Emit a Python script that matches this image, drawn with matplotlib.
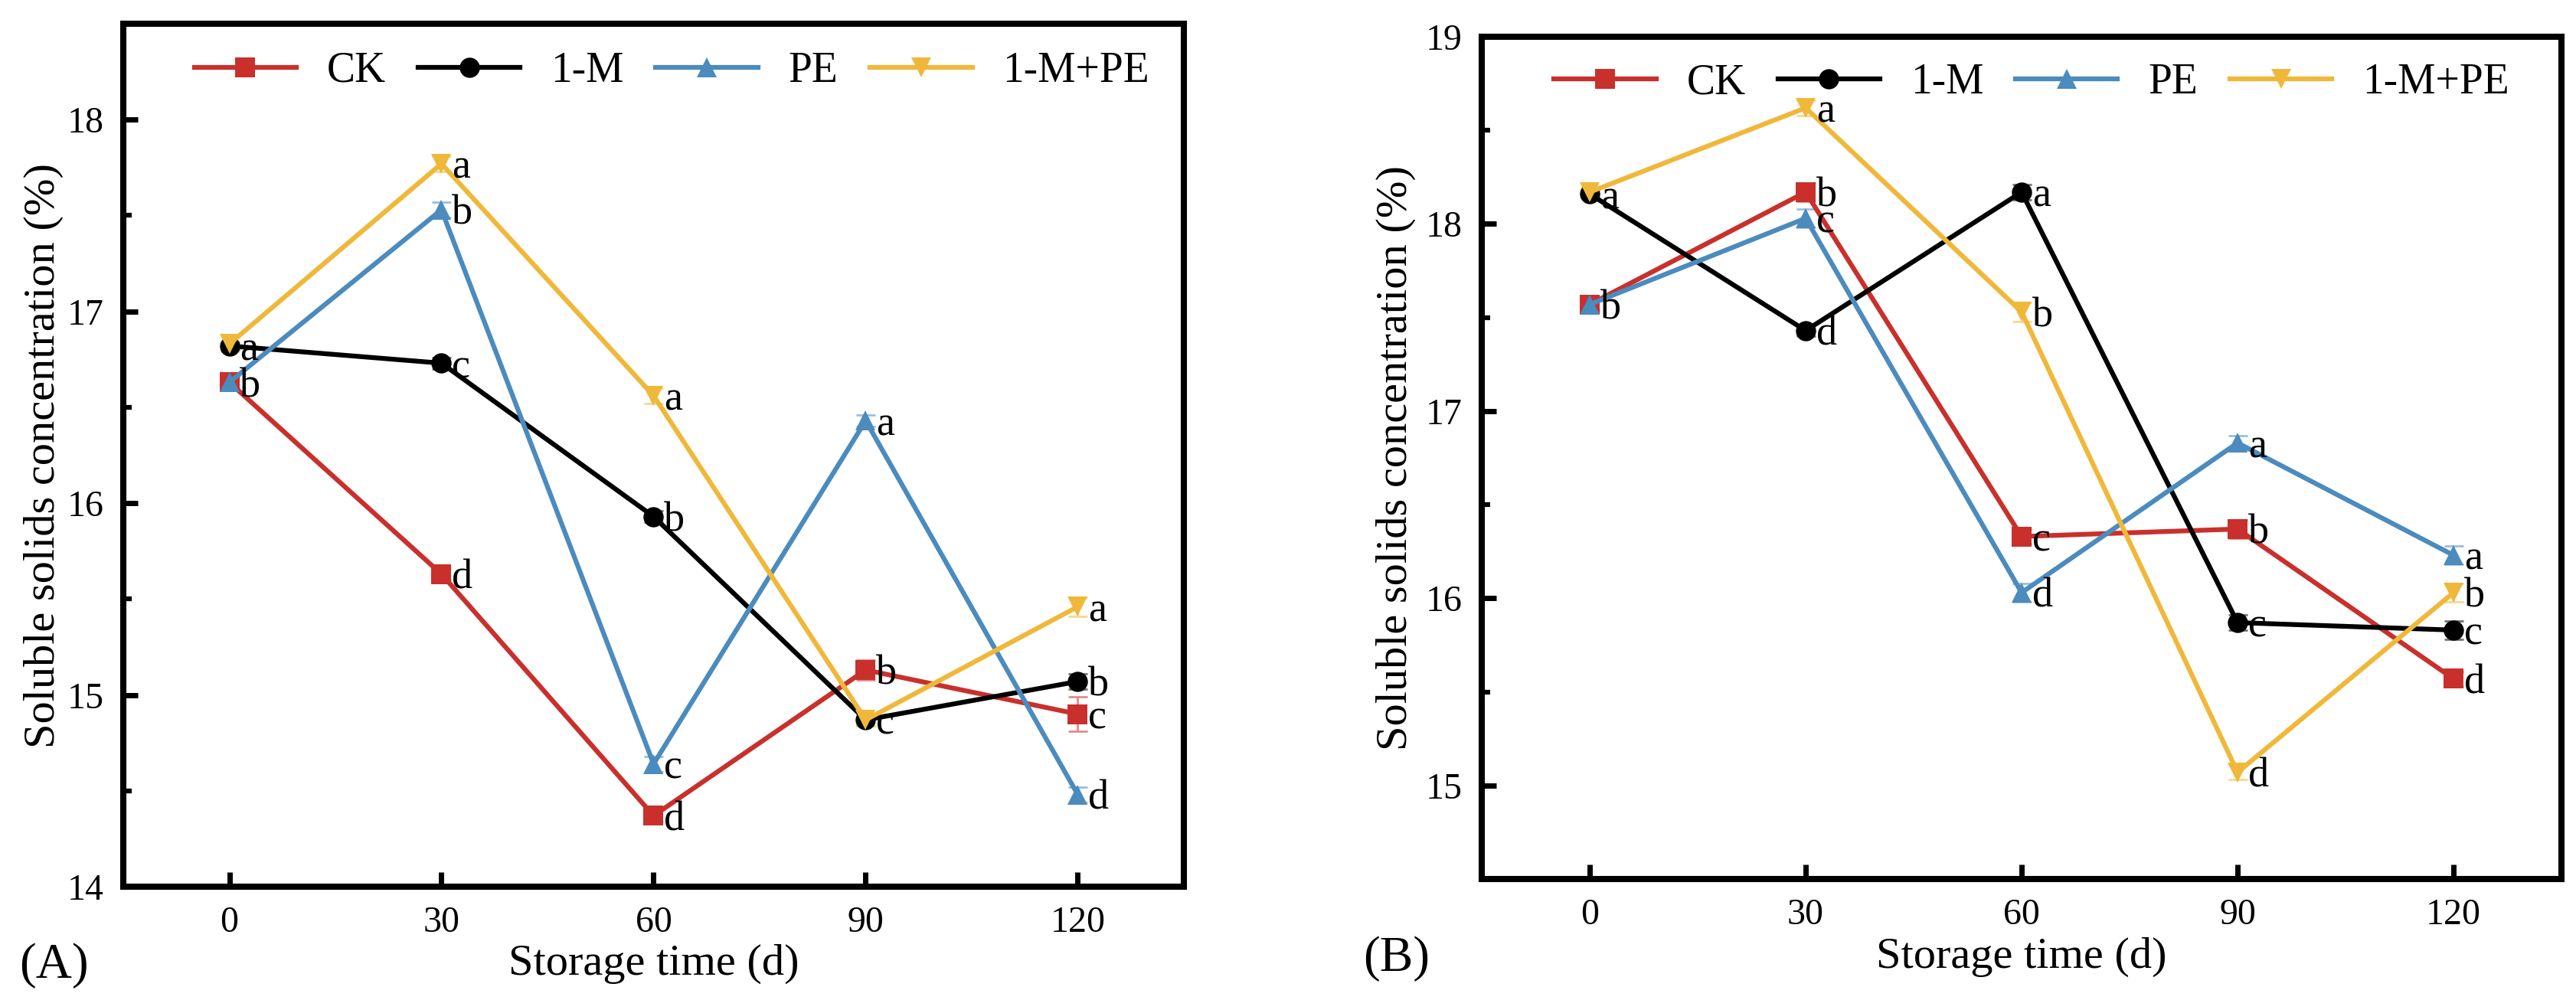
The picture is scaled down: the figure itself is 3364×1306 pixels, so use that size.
import matplotlib
matplotlib.use("Agg")
import matplotlib.pyplot as plt
from matplotlib.ticker import MultipleLocator
from matplotlib.colors import to_rgb

plt.rcParams['font.family'] = ['Liberation Serif', 'DejaVu Serif']

days = [0, 30, 60, 90, 120]
series_names = ['CK', '1-M', 'PE', '1-M+PE']

# Panel A
ck_a = [16.63, 15.63, 14.37, 15.13, 14.90]
m_a = [16.82, 16.73, 15.93, 14.87, 15.07]
pe_a = [16.63, 17.53, 14.64, 16.43, 14.48]
mpe_a = [16.83, 17.77, 16.56, 14.87, 15.46]
ck_a_err = [0.03, 0.03, 0.03, 0.05, 0.09]
m_a_err = [0.02, 0.03, 0.03, 0.03, 0.04]
pe_a_err = [0.03, 0.04, 0.04, 0.03, 0.04]
mpe_a_err = [0.04, 0.04, 0.04, 0.03, 0.05]
ck_a_let = ['b', 'd', 'd', 'b', 'c']
m_a_let = ['a', 'c', 'b', 'c', 'b']
pe_a_let = ['b', 'b', 'c', 'a', 'd']
mpe_a_let = ['a', 'a', 'a', 'c', 'a']

# Panel B
ck_b = [17.57, 18.17, 16.33, 16.37, 15.57]
m_b = [18.16, 17.43, 18.17, 15.87, 15.83]
pe_b = [17.57, 18.03, 16.03, 16.83, 16.23]
mpe_b = [18.17, 18.62, 17.53, 15.07, 16.03]
ck_b_err = [0.03, 0.05, 0.04, 0.05, 0.04]
m_b_err = [0.02, 0.03, 0.04, 0.04, 0.05]
pe_b_err = [0.03, 0.05, 0.05, 0.04, 0.05]
mpe_b_err = [0.03, 0.04, 0.05, 0.04, 0.05]
ck_b_let = ['b', 'b', 'c', 'b', 'd']
m_b_let = ['a', 'd', 'a', 'c', 'c']
pe_b_let = ['b', 'c', 'd', 'a', 'a']
mpe_b_let = ['a', 'a', 'b', 'd', 'b']

colors = ['#C9302C', '#000000', '#4B8BBE', '#F0B83A']
markers = ['s', 'o', '^', 'v']

def lighten(c, f=0.45):
    r, g, b = to_rgb(c)
    return (r + (1 - r) * f, g + (1 - g) * f, b + (1 - b) * f)

fig = plt.figure(figsize=(33.64, 13.06), dpi=100)
axA = fig.add_axes([0.04786, 0.11332, 0.41171, 0.86294])
axB = fig.add_axes([0.57521, 0.12098, 0.41915, 0.84227])

panels = [
    (axA, [ck_a, m_a, pe_a, mpe_a], [ck_a_err, m_a_err, pe_a_err, mpe_a_err],
     [ck_a_let, m_a_let, pe_a_let, mpe_a_let], (14, 18.5), [14, 15, 16, 17, 18]),
    (axB, [ck_b, m_b, pe_b, mpe_b], [ck_b_err, m_b_err, pe_b_err, mpe_b_err],
     [ck_b_let, m_b_let, pe_b_let, mpe_b_let], (14.5, 19), [15, 16, 17, 18, 19]),
]

for ax, vals, errs, lets, ylim, yticks in panels:
    handles = []
    placed = []
    for name, v, e, l, c, mk in zip(series_names, vals, errs, lets, colors, markers):
        ax.errorbar(days, v, yerr=e, fmt='none', ecolor=lighten(c), elinewidth=2,
                    capsize=9, capthick=2, zorder=2)
        ln, = ax.plot(days, v, color=c, lw=4.5, marker=mk, ms=19, mec=c, mew=0,
                      label=name, zorder=3)
        handles.append(ln)
        for x, y, t in zip(days, v, l):
            # same letter at (almost) the same point is shown once
            if any(px == x and pt == t and abs(py - y) < 0.05 for px, py, pt in placed):
                continue
            placed.append((x, y, t))
            ax.annotate(t, (x, y), xytext=(10, -13.5), textcoords='offset points',
                        ha='left', va='baseline', fontsize=39, color='black', zorder=4)
    ax.set_xlim(-15, 135)
    ax.set_ylim(*ylim)
    ax.set_xticks(days)
    ax.set_yticks(yticks)
    ax.yaxis.set_minor_locator(MultipleLocator(0.5))
    ax.tick_params(axis='both', which='major', direction='in', length=14, width=5,
                   labelsize=34.5)
    ax.tick_params(axis='y', which='major', pad=18)
    ax.tick_params(axis='x', which='major', pad=18)
    ax.tick_params(axis='y', which='minor', direction='in', length=8, width=4.5)
    for sp in ax.spines.values():
        sp.set_linewidth(5.8)
    ax.set_xlabel('Storage time (d)', fontsize=42)
    ax.set_ylabel('Soluble solids concentration (%)', fontsize=42)
    ax.legend(handles=handles, loc='center left', ncol=4, frameon=False,
              fontsize=40, handlelength=2.4, handletextpad=0.72,
              columnspacing=0.75, borderpad=0, borderaxespad=0,
              bbox_to_anchor=(0.067, 0.945), numpoints=1)

axA.xaxis.set_label_coords(0.5, -0.0896)
axA.xaxis.label.set_va('center')
axA.yaxis.set_label_coords(-0.0751, 0.5)
axA.yaxis.label.set_va('center')
axB.xaxis.set_label_coords(0.5, -0.0927)
axB.xaxis.label.set_va('center')
axB.yaxis.set_label_coords(-0.0795, 0.5)
axB.yaxis.label.set_va('center')

fig.text(25 / 3364, 1 - 1261 / 1306, '(A)', fontsize=47, ha='left', va='center')
fig.text(1780 / 3364, 1 - 1252 / 1306, '(B)', fontsize=47, ha='left', va='center')

fig.savefig('out.png', dpi=100)
